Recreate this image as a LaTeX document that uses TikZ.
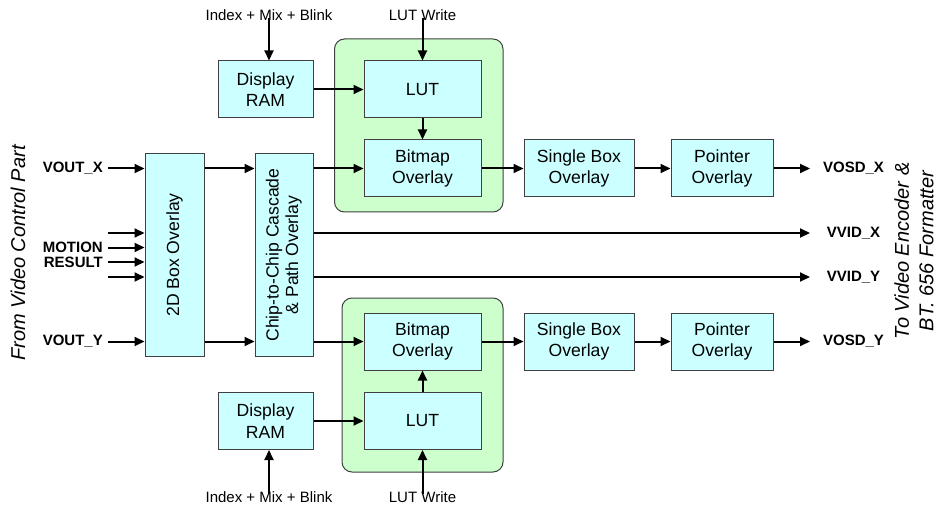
\documentclass[tikz,border=0pt]{standalone}
\usepackage{fontspec}
\setmainfont{Liberation Sans}
\usetikzlibrary{arrows.meta}
\definecolor{boxcyan}{HTML}{CCFFFF}
\definecolor{boxgreen}{HTML}{CCFFCC}
\definecolor{boxline}{HTML}{404040}
\tikzset{
  blk/.style={draw=boxline, line width=1pt, fill=boxcyan, inner sep=0pt, align=center,
    font=\fontsize{17.6pt}{21.5pt}\selectfont},
  grp/.style={draw=boxline, line width=1pt, fill=boxgreen, rounded corners=10pt},
  sig/.style={font=\bfseries\fontsize{15pt}{18pt}\selectfont, inner sep=0pt},
  ctl/.style={font=\fontsize{15pt}{18pt}\selectfont, inner sep=0pt},
  side/.style={font=\itshape\fontsize{20pt}{24.5pt}\selectfont, align=center, inner sep=0pt},
  arr/.style={line width=2pt, -{Triangle[length=10pt,width=9pt]}},
}
\begin{document}
\begin{tikzpicture}[x=1pt,y=-1pt]
\useasboundingbox (0,0) rectangle (938,508);
% green groups
\draw[grp] (334.5,39) rectangle (503,212);
\draw[grp] (342,298) rectangle (503,472);
% blocks
\node[blk, minimum width=59pt, minimum height=202pt] (b2d) at (174.5,255)
  {\rotatebox{90}{2D Box Overlay}};
\node[blk, minimum width=58pt, minimum height=202pt] (chip) at (284,255)
  {\rotatebox{90}{\begin{tabular}{@{}c@{}}Chip-to-Chip Cascade\\[-2pt] \& Path Overlay\end{tabular}}};
\node[blk, minimum width=95pt, minimum height=57pt] (dram1) at (265.5,89.5) {Display\\RAM};
\node[blk, minimum width=117pt, minimum height=57pt] (lut1) at (422.5,89.5) {LUT};
\node[blk, minimum width=117pt, minimum height=57pt] (bmp1) at (422.5,168.5) {Bitmap\\Overlay};
\node[blk, minimum width=110pt, minimum height=57pt] (sbo1) at (579,168.5) {Single Box\\Overlay};
\node[blk, minimum width=102pt, minimum height=57pt] (ptr1) at (722,168.5) {Pointer\\Overlay};
\node[blk, minimum width=95pt, minimum height=57pt] (dram2) at (265.5,421) {Display\\RAM};
\node[blk, minimum width=117pt, minimum height=57pt] (lut2) at (422.5,421) {LUT};
\node[blk, minimum width=117pt, minimum height=57pt] (bmp2) at (422.5,341.5) {Bitmap\\Overlay};
\node[blk, minimum width=110pt, minimum height=57pt] (sbo2) at (579,341.5) {Single Box\\Overlay};
\node[blk, minimum width=102pt, minimum height=57pt] (ptr2) at (722,341.5) {Pointer\\Overlay};
% control labels
\node[ctl] (idx1) at (269,15) {Index + Mix + Blink};
\node[ctl] (lw1) at (422.5,15) {LUT Write};
\node[ctl] (idx2) at (269,497) {Index + Mix + Blink};
\node[ctl] (lw2) at (422.5,497) {LUT Write};
% left signal labels
\node[sig, anchor=east] (voutx) at (103,168.5) {VOUT\_X};
\node[sig, anchor=east] (vouty) at (103,341.5) {VOUT\_Y};
\node[sig, anchor=east] (motion) at (103,247.5) {MOTION};
\node[sig, anchor=east] (result) at (103,262) {RESULT};
\coordinate (m1) at (108,233);
\coordinate (m4) at (108,277);
% right signal labels
\node[sig] (vosdx) at (853.5,168.5) {VOSD\_X};
\node[sig] (vvidx) at (853.5,233) {VVID\_X};
\node[sig] (vvidy) at (853.5,277) {VVID\_Y};
\node[sig] (vosdy) at (853.5,341.5) {VOSD\_Y};
\coordinate (ex) at (810,0);
% side texts
\node[side, rotate=90] (from) at (18,253) {From Video Control Part};
\node[side, rotate=90] (to) at (914,251) {To Video Encoder \&\\BT. 656 Formatter};
% arrows: inputs
\draw[arr] (voutx.east) ++(5pt,0) -- (voutx.east -| b2d.west);
\draw[arr] (vouty.east) ++(5pt,0) -- (vouty.east -| b2d.west);
\draw[arr] (m1) -- (m1 -| b2d.west);
\draw[arr] (motion.east) ++(5pt,0) -- (motion.east -| b2d.west);
\draw[arr] (result.east) ++(5pt,0) -- (result.east -| b2d.west);
\draw[arr] (m4) -- (m4 -| b2d.west);
% 2D -> chip
\draw[arr] (b2d.east |- bmp1) -- (chip.west |- bmp1);
\draw[arr] (b2d.east |- bmp2) -- (chip.west |- bmp2);
% chip -> bitmap / vvid
\draw[arr] (chip.east |- bmp1) -- (bmp1.west);
\draw[arr] (chip.east |- bmp2) -- (bmp2.west);
\draw[arr] (chip.east |- vvidx) -- (ex |- vvidx);
\draw[arr] (chip.east |- vvidy) -- (ex |- vvidy);
% top path
\draw[arr] (idx1.south) ++(0,3pt) -- (idx1.south |- dram1.north);
\draw[arr] (lw1.south) ++(0,3pt) -- (lut1.north);
\draw[arr] (dram1.east) -- (lut1.west);
\draw[arr] (lut1.south) -- (bmp1.north);
\draw[arr] (bmp1.east) -- (sbo1.west);
\draw[arr] (sbo1.east) -- (ptr1.west);
\draw[arr] (ptr1.east) -- (ex |- ptr1);
% bottom path
\draw[arr] (idx2.north) ++(0,-3pt) -- (idx2.north |- dram2.south);
\draw[arr] (lw2.north) ++(0,-3pt) -- (lut2.south);
\draw[arr] (dram2.east) -- (lut2.west);
\draw[arr] (lut2.north) -- (bmp2.south);
\draw[arr] (bmp2.east) -- (sbo2.west);
\draw[arr] (sbo2.east) -- (ptr2.west);
\draw[arr] (ptr2.east) -- (ex |- ptr2);
\end{tikzpicture}
\end{document}
